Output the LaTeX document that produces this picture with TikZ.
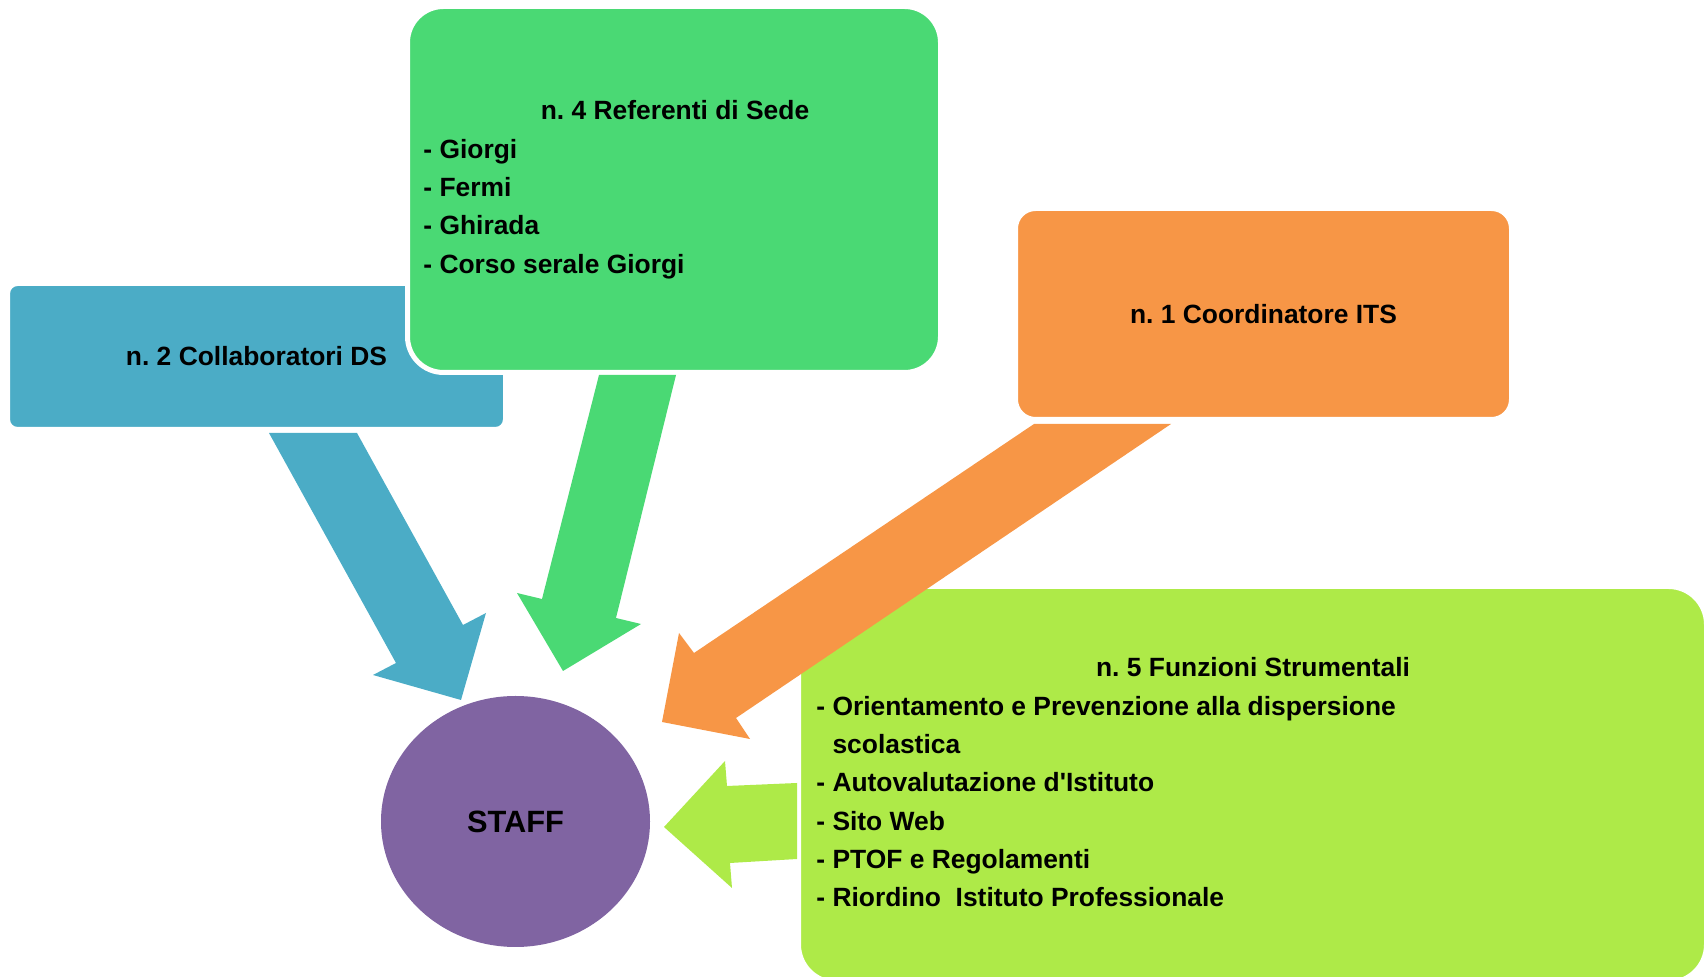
\documentclass[tikz,border=0pt]{standalone}
\usepackage{fontspec}
\setmainfont{Liberation Sans}
\usetikzlibrary{shapes.geometric}
\frenchspacing

\definecolor{collabBlue}{RGB}{75,172,198}
\definecolor{referGreen}{RGB}{74,217,116}
\definecolor{coordOrange}{RGB}{247,150,70}
\definecolor{funzLime}{RGB}{174,234,72}
\definecolor{staffPurple}{RGB}{128,100,162}

\tikzset{
  box/.style={rectangle, draw=white, line width=2.5pt, inner sep=0pt,
    font=\fontsize{13.2}{16}\selectfont\bfseries},
  txt/.style={inner sep=0pt, font=\fontsize{13.2}{16}\selectfont\bfseries},
  item/.style={txt, anchor=base west},
}

\begin{document}
\begin{tikzpicture}[x=0.5pt, y=-0.5pt]
\useasboundingbox (0,0) rectangle (1705,977);

% Collaboratori
\node[box, fill=collabBlue, rounded corners=5pt, minimum width=249pt, minimum height=73pt]
  (collab) at (256.5,356.5) {n. 2 Collaboratori DS};
\fill[collabBlue] (269,433) -- (357,433) -- (463,625) -- (486,613) -- (461,700)
  -- (373,675) -- (396,663) -- cycle;

% Referenti
\node[box, fill=referGreen, rounded corners=18pt, minimum width=266.5pt, minimum height=183pt]
  (refer) at (674,189.5) {};
\node[txt, anchor=base] (referTitle) at (675,120) {n. 4 Referenti di Sede};
\foreach \t [count=\i] in {Giorgi, Fermi, Ghirada, Corso serale Giorgi}
  \node[item] (refer\i) at (423,120+38.3*\i) {- \t};
\fill[referGreen] (599,375) -- (676,375) -- (616,618) -- (641,624) -- (563,671)
  -- (517,593) -- (542,599) -- cycle;

% Funzioni strumentali
\node[box, fill=funzLime, rounded corners=19pt, minimum width=454pt, minimum height=198pt]
  (funz) at (1252.5,784.5) {};
\node[txt, anchor=base] (funzTitle) at (1253,677) {n. 5 Funzioni Strumentali};
\foreach \t [count=\i] in {- Orientamento e Prevenzione alla dispersione,
    \hphantom{- }scolastica, - Autovalutazione d\textquotesingle Istituto, - Sito Web,
    - PTOF e Regolamenti, - Riordino~ Istituto Professionale}
  \node[item] (funz\i) at (816,677+38.3*\i) {\t};

% Coordinatore
\node[box, fill=coordOrange, rounded corners=10pt, minimum width=248pt, minimum height=105.5pt]
  (coord) at (1263.5,314) {n. 1 Coordinatore ITS};
\fill[coordOrange] (1034,424) -- (1171,424) -- (736,718) -- (750,739) -- (662,722)
  -- (679,633) -- (694,653) -- cycle;

\fill[funzLime] (797,783) -- (727,786) -- (725,761) -- (664,827) -- (732,888)
  -- (730,863) -- (797,859) -- cycle;

% Staff
\node[ellipse, fill=staffPurple, inner sep=0pt, minimum width=134.5pt, minimum height=125.5pt,
  font=\fontsize{15.4}{18}\selectfont\bfseries] (staff) at (515.5,821.5) {STAFF};
\end{tikzpicture}
\end{document}
